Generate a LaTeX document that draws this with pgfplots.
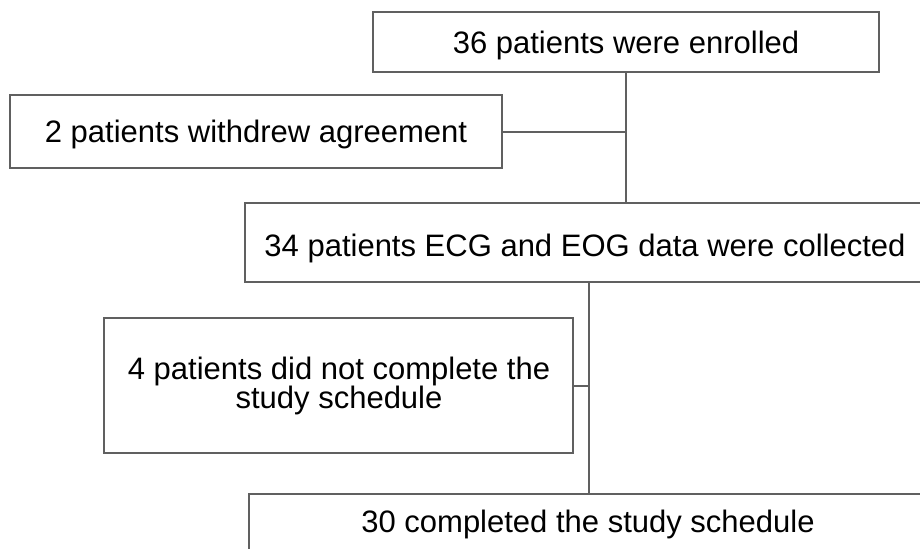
\documentclass[border=0pt]{standalone}
\usepackage{fontspec}
\setmainfont{Liberation Sans}
\usepackage{pgfplots}
\pgfplotsset{compat=1.18}
\definecolor{edge}{HTML}{606060}
\tikzset{txt/.style={font=\fontsize{31}{30}\selectfont, align=center, text=black, inner sep=0pt}}
\pgfplotsset{
  bx/.style={draw=edge, fill=none, mark=none, line width=1.8pt, line join=miter},
  cn/.style={draw=edge, fill=none, mark=none, line width=1.5pt},
}
\begin{document}
\begin{tikzpicture}
\begin{axis}[
  width=920pt, height=549pt, scale only axis,
  xmin=0, xmax=920, ymin=0, ymax=549, y dir=reverse,
  axis lines=none, clip=false,
]
% boxes
\addplot[bx] coordinates {(373,12) (879,12) (879,72) (373,72)} --cycle;
\addplot[bx] coordinates {(10,95) (502,95) (502,168) (10,168)} --cycle;
\addplot[bx] coordinates {(920,203) (245,203) (245,282) (920,282)};
\addplot[bx] coordinates {(104,318) (573,318) (573,453) (104,453)} --cycle;
\addplot[bx] coordinates {(920,494) (249,494) (249,549)};
% connectors
\addplot[cn] coordinates {(626,72) (626,203)};
\addplot[cn] coordinates {(502,132) (626,132)};
\addplot[cn] coordinates {(589,282) (589,494)};
\addplot[cn] coordinates {(573,386) (589,386)};
% texts
\node[txt, anchor=base] at (axis cs:626,53) {36 patients were enrolled};
\node[txt, anchor=base] at (axis cs:256,142) {2 patients withdrew agreement};
\node[txt, anchor=base] at (axis cs:585,256) {34 patients ECG and EOG data were collected};
\node[txt, anchor=base] at (axis cs:339,379) {4 patients did not complete the};
\node[txt, anchor=base] at (axis cs:339,408) {study schedule};
\node[txt, anchor=base] at (axis cs:588,532) {30 completed the study schedule};
\coordinate (SW) at (axis cs:0,549);
\coordinate (NE) at (axis cs:920,0);
\end{axis}
\pgfresetboundingbox
\useasboundingbox (SW) rectangle (NE);
\end{tikzpicture}
\end{document}
